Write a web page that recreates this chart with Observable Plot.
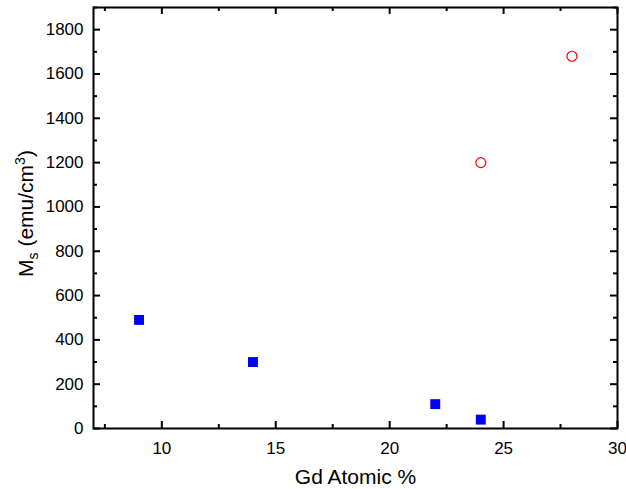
<!DOCTYPE html>
<html>
<head>
<meta charset="utf-8">
<script src="https://cdn.jsdelivr.net/npm/d3@7"></script>
<script src="https://cdn.jsdelivr.net/npm/@observablehq/plot@0.6"></script>
<style>
  html, body { margin: 0; padding: 0; background: #fff; }
  #chart svg { display: block; }
</style>
</head>
<body>
<div id="chart"></div>
<script>
// Saturation magnetization vs. Gd content
const gdLow = [9, 14, 22, 24];          // filled squares
const msLow = [490, 300, 110, 40];
const gdHigh = [24, 28];                // open circles
const msHigh = [1200, 1680];

const xMajor = [10, 15, 20, 25, 30];
const xMinor = [7.5, 12.5, 17.5, 22.5, 27.5];
const yMajor = [0, 200, 400, 600, 800, 1000, 1200, 1400, 1600, 1800];
const yMinor = [100, 300, 500, 700, 900, 1100, 1300, 1500, 1700, 1900];

const W = 626, H = 489;
const mT = 7, mB = 61, mL = 93, mR = 9;
const innerW = W - mL - mR, innerH = H - mT - mB;
const major = 7, minor = 4;
const font = "'Liberation Sans', Arial, Helvetica, sans-serif";

const lowPts = gdLow.map((x, i) => ({x, y: msLow[i]}));
const highPts = gdHigh.map((x, i) => ({x, y: msHigh[i]}));

// inward ticks on all four sides
const xTicks = (vals, len) => [
  Plot.tickX(vals, {x: d => d, stroke: "#000", strokeWidth: 2, insetTop: innerH - len}),
  Plot.tickX(vals, {x: d => d, stroke: "#000", strokeWidth: 2, insetBottom: innerH - len})
];
const yTicks = (vals, len) => [
  Plot.tickY(vals, {y: d => d, stroke: "#000", strokeWidth: 2, insetRight: innerW - len}),
  Plot.tickY(vals, {y: d => d, stroke: "#000", strokeWidth: 2, insetLeft: innerW - len})
];

const chart = Plot.plot({
  width: W,
  height: H,
  marginTop: mT,
  marginBottom: mB,
  marginLeft: mL,
  marginRight: mR,
  style: {fontFamily: font, fontSize: "17px", color: "#000", background: "#fff"},
  x: {domain: [7, 30]},
  y: {domain: [0, 1900]},
  marks: [
    Plot.axisX(xMajor, {tickSize: 0, tickPadding: 13, fontSize: 17, label: null, tickFormat: d3.format("d")}),
    Plot.axisY(yMajor, {tickSize: 0, tickPadding: 10, fontSize: 17, label: null, tickFormat: d3.format("d")}),
    ...xTicks(xMajor, major),
    ...xTicks(xMinor, minor),
    ...yTicks(yMajor, major),
    ...yTicks(yMinor, minor),
    Plot.dot(lowPts, {x: "x", y: "y", symbol: "square", r: 5.6, fill: "#0000ff", stroke: "none"}),
    Plot.dot(highPts, {x: "x", y: "y", symbol: "circle", r: 5, fill: "none", stroke: "#ff0000", strokeWidth: 1.2}),
    Plot.frame({stroke: "#000", strokeWidth: 2}),
    Plot.text(["Gd Atomic %"], {frameAnchor: "bottom", lineAnchor: "middle", dy: 49, fontSize: 21, fill: "#000", textAnchor: "middle"})
  ]
});

// y-axis title with subscript and superscript
const svg = d3.select(chart);
const yTitle = svg.append("text")
  .attr("transform", `translate(33,${mT + innerH / 2 - 4}) rotate(-90)`)
  .attr("text-anchor", "middle")
  .attr("font-family", font)
  .attr("font-size", 21)
  .attr("fill", "#000");
yTitle.append("tspan").text("M");
yTitle.append("tspan").attr("dy", 5).attr("font-size", 14).text("s");
yTitle.append("tspan").attr("dy", -5).text(" (emu/cm");
yTitle.append("tspan").attr("dy", -8).attr("font-size", 14).text("3");
yTitle.append("tspan").attr("dy", 8).text(")");

document.getElementById("chart").appendChild(chart);
</script>
</body>
</html>
